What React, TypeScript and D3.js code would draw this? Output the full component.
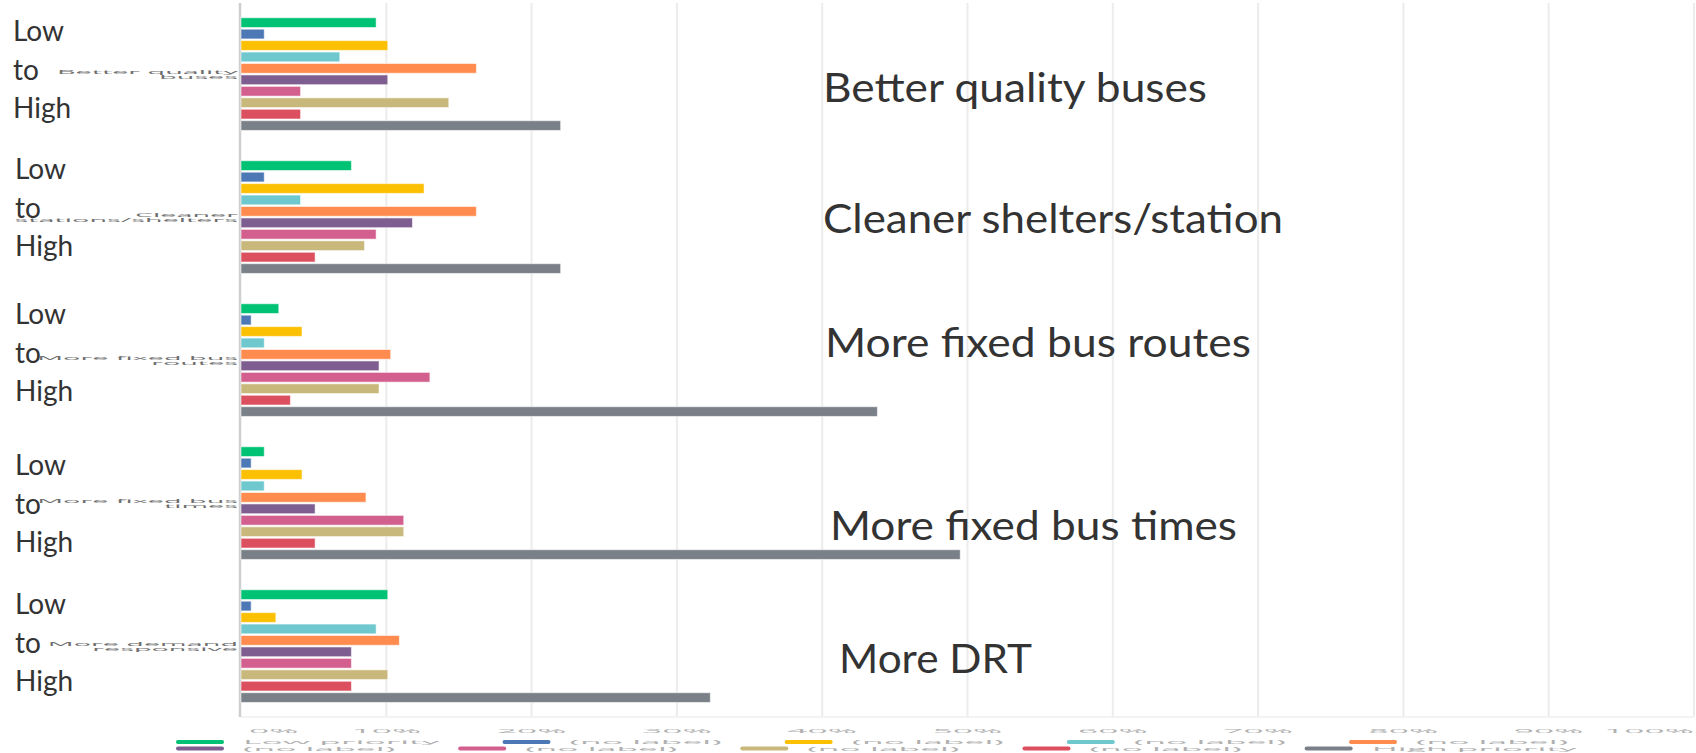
import React from 'react';
import * as d3 from 'd3';

// categories (top to bottom) and the ten priority levels
const categories = [
  'Better quality buses',
  'Cleaner stations/shelters',
  'More fixed bus routes',
  'More fixed bus times',
  'More demand responsive',
];
const seriesNames = [
  'Low priority', '(no label)', '(no label)', '(no label)', '(no label)',
  '(no label)', '(no label)', '(no label)', '(no label)', 'High priority',
];
const seriesColors = [
  '#00c274', '#4c79b5', '#fbc002', '#6fc8cd', '#ff8b4f',
  '#7e5e90', '#d35f8e', '#c9b87b', '#dc4f5e', '#7a8087',
];

// percent of respondents per level, low -> high
const betterBuses = [9.3, 1.6, 10.1, 6.8, 16.2, 10.1, 4.1, 14.3, 4.1, 22.0];
const cleanerShelters = [7.6, 1.6, 12.6, 4.1, 16.2, 11.8, 9.3, 8.5, 5.1, 22.0];
const fixedRoutes = [2.6, 0.7, 4.2, 1.6, 10.3, 9.5, 13.0, 9.5, 3.4, 43.8];
const fixedTimes = [1.6, 0.7, 4.2, 1.6, 8.6, 5.1, 11.2, 11.2, 5.1, 49.5];
const demandResponsive = [10.1, 0.7, 2.4, 9.3, 10.9, 7.6, 7.6, 10.1, 7.6, 32.3];
const values = [betterBuses, cleanerShelters, fixedRoutes, fixedTimes, demandResponsive];

const xTicks = [0, 10, 20, 30, 40, 50, 60, 70, 80, 90, 100];
const tickLabels = ['0%', '10%', '20%', '30%', '40%', '50%', '60%', '70%', '80%', '90%', '100%'];

// big overlay captions next to each group
const captions = [
  'Better quality buses',
  'Cleaner shelters/station',
  'More fixed bus routes',
  'More fixed bus times',
  'More DRT',
];
const scaleWords = ['Low', 'to', 'High'];

const W = 1696;
const H = 753;

// placement of the overlay text boxes (they were pasted on by hand)
const captionBox = [
  { x: 823, dy: 28, w: 384 },
  { x: 823, dy: 16, w: 460 },
  { x: 825, dy: -3, w: 426 },
  { x: 830, dy: 37, w: 407 },
  { x: 839, dy: 27, w: 193 },
];
const scaleShift = [-1, -6, -4, 4, 0];

function wrap(label: string, max = 15) {
  const lines: string[] = [];
  let cur = '';
  label.split(' ').forEach(w => {
    const next = cur ? cur + ' ' + w : w;
    if (next.length > max && cur) {
      lines.push(cur);
      cur = w;
    } else cur = next;
  });
  if (cur) lines.push(cur);
  return lines;
}

let ctx: CanvasRenderingContext2D | null = null;
function textWidth(s: string) {
  if (!ctx) ctx = document.createElement('canvas').getContext('2d');
  if (!ctx) return s.length * 5.5;
  ctx.font = "12px 'Open Sans'";
  return ctx.measureText(s).width;
}

export default function App() {
  const x = d3.scaleLinear().domain([0, 100]).range([241, 1694]);
  const y0 = d3.scaleBand<string>().domain(categories).range([2.6, 717.6]);
  const keys = seriesNames.map((_, i) => String(i));
  const y1 = d3.scaleBand<string>()
    .domain(keys)
    .range([0, y0.bandwidth()])
    .paddingInner(0.15)
    .paddingOuter(1.325);

  const sx = 2.95; // the screenshot was stretched sideways
  const sy = 0.45;

  // legend: two rows of five
  const legendRows = [seriesNames.slice(0, 5), seriesNames.slice(5)];
  const legendItems: { name: string; color: string; x: number; row: number }[] = [];
  legendRows.forEach((row, r) => {
    let cx = 176;
    row.forEach((name, i) => {
      const idx = r * 5 + i;
      legendItems.push({ name, color: seriesColors[idx], x: cx, row: r });
      cx += 67 + textWidth(name) * sx + 63;
    });
  });

  return (
    <svg
      width={W}
      height={H}
      style={{ position: 'absolute', left: 0, top: 0, background: '#fff' }}
      fontFamily="'Open Sans', sans-serif"
    >
      {/* grid */}
      {xTicks.slice(1).map(t => (
        <line key={t} x1={x(t)} x2={x(t)} y1={3} y2={717} stroke="#ececec" strokeWidth={2} />
      ))}
      <line x1={x(0)} x2={x(100)} y1={717} y2={717} stroke="#efefef" strokeWidth={1.5} />
      <line x1={x(0) - 1} x2={x(0) - 1} y1={3} y2={717} stroke="#cfcfcf" strokeWidth={2.5} />

      {/* bars */}
      {categories.map((cat, ci) => (
        <g key={cat} transform={`translate(0,${y0(cat)})`}>
          {values[ci].map((v, si) => (
            <rect
              key={si}
              x={x(0)}
              y={y1(keys[si])}
              width={x(v) - x(0)}
              height={y1.bandwidth()}
              fill={seriesColors[si]}
              stroke="rgba(255,255,255,0.55)"
              strokeWidth={1}
            />
          ))}
        </g>
      ))}

      {/* squished category tick labels */}
      {categories.map(cat => {
        const lines = wrap(cat);
        const c = (y0(cat) ?? 0) + y0.bandwidth() / 2;
        return lines.map((ln, li) => (
          <text
            key={cat + li}
            transform={`translate(238,${c - 0.5 + li * 5.5}) scale(2.4,${sy})`}
            textAnchor="end"
            fontSize={12}
            fill="#6e6e6e"
          >
            {ln}
          </text>
        ));
      })}

      {/* x tick labels */}
      {xTicks.map((t, i) => {
        const anchor = i === 0 ? 'start' : i === xTicks.length - 1 ? 'end' : 'middle';
        const px = i === 0 ? x(t) + 8 : x(t);
        return (
          <text
            key={t}
            transform={`translate(${px},733) scale(${sx},${sy + 0.05})`}
            textAnchor={anchor}
            fontSize={12}
            fill="#b0b0b0"
          >
            {tickLabels[i]}
          </text>
        );
      })}

      {/* legend */}
      {legendItems.map((it, i) => {
        const cy = it.row === 0 ? 742 : 748.5;
        return (
          <g key={i}>
            <rect x={it.x} y={cy - 2} width={48} height={4} rx={2} fill={it.color} />
            <text
              transform={`translate(${it.x + 67},${cy + 2}) scale(${sx},${sy})`}
              fontSize={12}
              fill="#b0b0b0"
            >
              {it.name}
            </text>
          </g>
        );
      })}

      {/* overlay "Low to High" */}
      {categories.map((cat, ci) => {
        const c = (y0(cat) ?? 0) + y0.bandwidth() / 2 + scaleShift[ci];
        return scaleWords.map((w, wi) => (
          <text
            key={cat + w}
            x={ci === 0 ? 13 : 15}
            y={c - 32 + wi * 38.5}
            fontFamily="Lato, 'Open Sans', sans-serif"
            fontSize={28}
            fill="#333"
          >
            {w}
          </text>
        ));
      })}

      {/* overlay captions */}
      {categories.map((cat, ci) => {
        const c = (y0(cat) ?? 0) + y0.bandwidth() / 2;
        const b = captionBox[ci];
        return (
          <text
            key={cat + 'cap'}
            x={b.x}
            y={c + b.dy}
            fontFamily="Lato, 'Open Sans', sans-serif"
            fontSize={41}
            fill="#333"
            textLength={b.w}
            lengthAdjust="spacingAndGlyphs"
          >
            {captions[ci]}
          </text>
        );
      })}
    </svg>
  );
}
